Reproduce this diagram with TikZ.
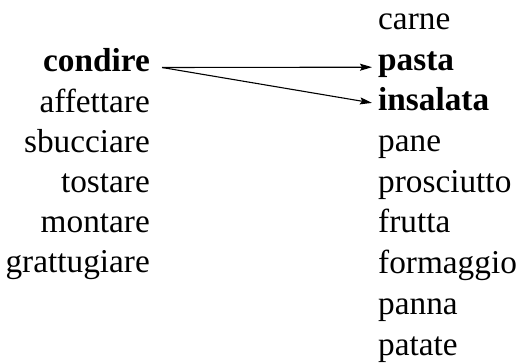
\documentclass[tikz,border=0pt]{standalone}
\usepackage{fontspec}
\setmainfont{Liberation Serif}
\newfontfamily\wordfont{Liberation Serif}
\usetikzlibrary{arrows.meta}
\begin{document}
\begin{tikzpicture}[x=1pt,y=-1pt,
  word/.style={inner sep=0pt,font=\wordfont\fontsize{33.3}{40}\selectfont},
  lw/.style={word,anchor=base east},
  rw/.style={word,anchor=base west},
  hl/.style={font=\wordfont\fontsize{33.3}{40}\selectfont\bfseries},
  link/.style={line width=1.1pt,-{Stealth[length=12pt,width=7pt,inset=2pt]}}]
\useasboundingbox (0,0) rectangle (517,363);
% left column
\node[lw,hl] (condire) at (150,72) {condire};
\node[lw] (affettare) at (150,112.2) {affettare};
\node[lw] (sbucciare) at (150,152.4) {sbucciare};
\node[lw] (tostare) at (150,192.6) {tostare};
\node[lw] (montare) at (150,232.8) {montare};
\node[lw] (grattugiare) at (150,273) {grattugiare};
% right column
\node[rw] (carne) at (378,29.5) {carne};
\node[rw,hl] (pasta) at (378,70.2) {pasta};
\node[rw,hl] (insalata) at (378,110.9) {insalata};
\node[rw] (pane) at (378,151.6) {pane};
\node[rw] (prosciutto) at (378,192.3) {prosciutto};
\node[rw] (frutta) at (378,233) {frutta};
\node[rw] (formaggio) at (378,273.7) {formaggio};
\node[rw] (panna) at (378,314.4) {panna};
\node[rw] (patate) at (378,355.1) {patate};
% connectors
\coordinate (start) at ([xshift=12pt,yshift=4.5pt]condire.base east);
\coordinate (endpasta) at ([xshift=-6pt,yshift=3pt]pasta.base west);
\coordinate (endins) at ([xshift=-6pt,yshift=8pt]insalata.base west);
\draw[link] (start) -- (endpasta);
\draw[link] (start) -- (endins);
\end{tikzpicture}
\end{document}
